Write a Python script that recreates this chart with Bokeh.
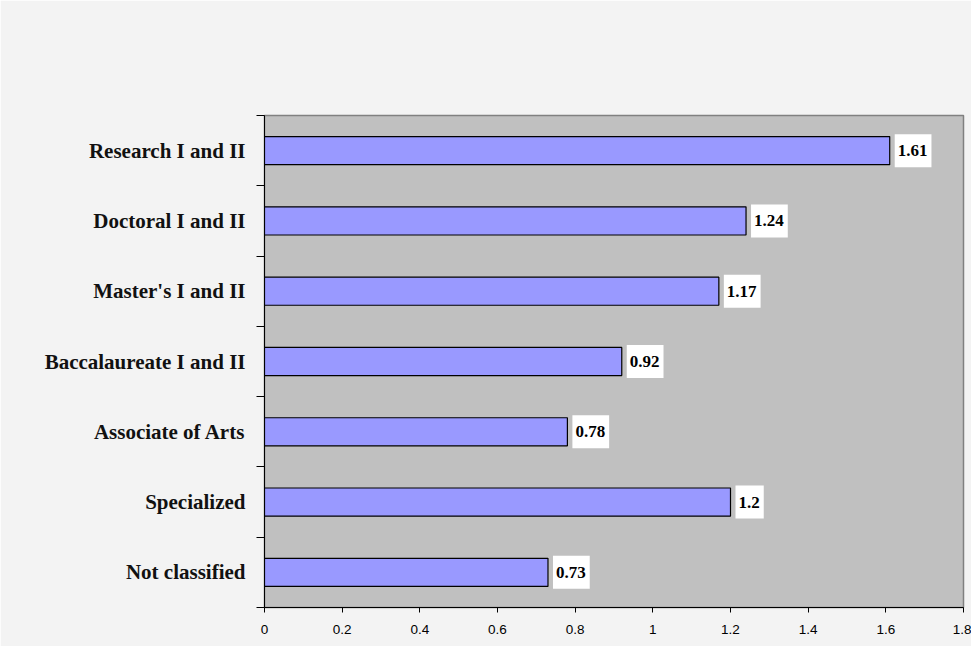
from bokeh.plotting import figure
from bokeh.models import FixedTicker, ColumnDataSource
from bokeh.core.properties import value
from bokeh.embed import file_html
from bokeh.resources import INLINE

categories = ["Research I and II", "Doctoral I and II", "Master's I and II",
              "Baccalaureate I and II", "Associate of Arts", "Specialized",
              "Not classified"]
values = [1.61, 1.24, 1.17, 0.92, 0.78, 1.2, 0.73]
value_labels = ["1.61", "1.24", "1.17", "0.92", "0.78", "1.2", "0.73"]
x_ticks = [0, 0.2, 0.4, 0.6, 0.8, 1.0, 1.2, 1.4, 1.6, 1.8]
x_tick_labels = ["0", "0.2", "0.4", "0.6", "0.8", "1", "1.2", "1.4", "1.6", "1.8"]

n = len(categories)
ypos = [n - i - 0.5 for i in range(n)]

src = ColumnDataSource(dict(y=ypos, v=values, lab=value_labels, cat=categories))

p = figure(width=971, height=646, output_backend="svg", toolbar_location=None,
           x_range=(0, 1.8), y_range=(0, n),
           min_border_left=264, min_border_right=8, min_border_top=115,
           min_border_bottom=39)
p.border_fill_color = "#f3f3f3"
p.background_fill_color = "#c0c0c0"
p.outline_line_color = "#808080"
p.outline_line_width = 1.5
p.xgrid.visible = False
p.ygrid.visible = False

p.hbar(y="y", right="v", left=0, height=0.4, source=src,
       fill_color="#9999ff", line_color="black", line_width=1.2)

p.text(x="v", y="y", text="lab", source=src, x_offset=5,
       text_align="left", text_baseline="middle",
       text_font=value("Liberation Serif"), text_font_style="bold",
       text_font_size="17px", text_color="black",
       background_fill_color="white",
       padding=dict(left=3, right=4, top=11, bottom=11))

# x axis
xa = p.xaxis[0]
xa.ticker = FixedTicker(ticks=x_ticks)
xa.major_label_overrides = {t: l for t, l in zip(x_ticks, x_tick_labels)}
xa.major_tick_out = 5
xa.major_tick_in = 0
xa.minor_tick_out = 0
xa.minor_tick_in = 0
xa.axis_line_color = "black"
xa.major_tick_line_color = "black"
xa.major_label_text_font = "Liberation Sans"
xa.major_label_text_font_size = "13.5px"
xa.major_label_text_color = "black"
xa.major_label_standoff = 12

# y axis: labels at centers, tick marks at boundaries
ya = p.yaxis[0]
ya.ticker = FixedTicker(ticks=ypos, minor_ticks=list(range(n + 1)))
ya.major_label_overrides = {y: c for y, c in zip(ypos, categories)}
ya.major_tick_out = 0
ya.major_tick_in = 0
ya.minor_tick_out = 8
ya.minor_tick_in = 0
ya.minor_tick_line_color = "black"
ya.axis_line_color = "black"
ya.major_label_text_font = "Liberation Serif"
ya.major_label_text_font_style = "bold"
ya.major_label_text_font_size = "21px"
ya.major_label_text_color = "#111111"
ya.major_label_standoff = 11

open("out.html", "w").write(file_html(p, INLINE))
